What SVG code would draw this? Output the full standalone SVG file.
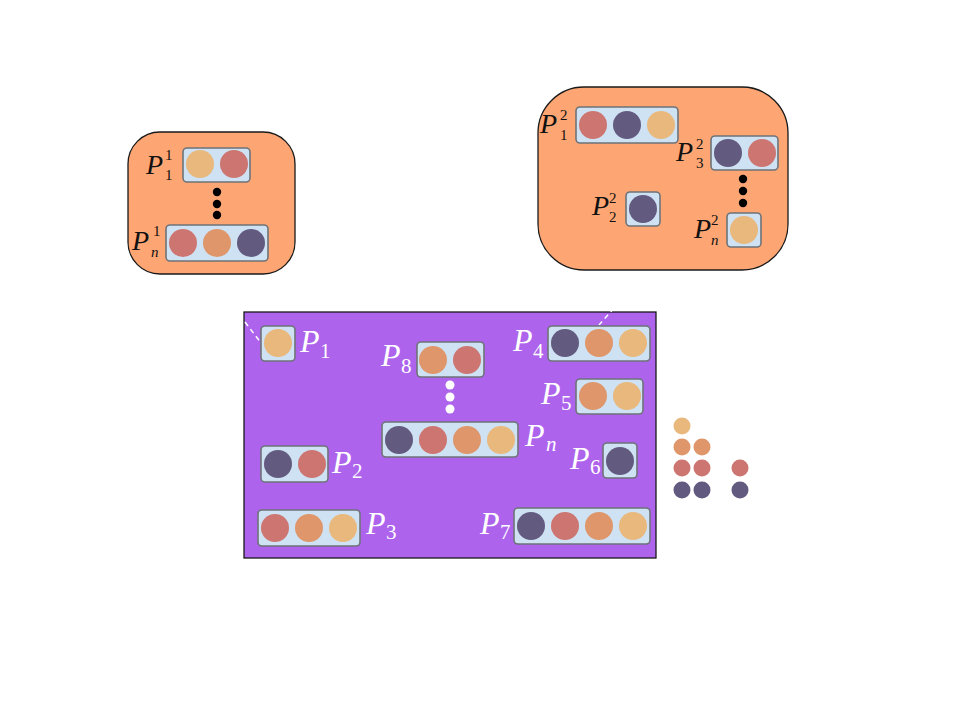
<svg xmlns="http://www.w3.org/2000/svg" width="960" height="720" viewBox="0 0 960 720">
<defs>
<style>
.grp{fill:#FEA673;stroke:#1a1a1a;stroke-width:1.3}
.pur{fill:#AD63EC;stroke:#1a1a1a;stroke-width:1.3}
.box{fill:#CFE2F3;stroke:#6E7378;stroke-width:1.6}
.y{fill:#E8B87C}.o{fill:#DE966A}.r{fill:#CD7570}.p{fill:#635A80}
.lb{font-family:"Liberation Serif","DejaVu Serif",serif;fill:#111}
.lw{font-family:"Liberation Serif","DejaVu Serif",serif;fill:#fff}
.P{font-style:italic;font-size:28px}
.PW{font-style:italic;font-size:32px}
.s{font-size:15px}
.sw{font-size:21px}
.it{font-style:italic}
</style>
</defs>
<rect width="960" height="720" fill="#fff"/>

<g id="group1">
<rect class="grp" x="128" y="132" width="167" height="142" rx="32"/>
</g>
<g id="group2">
<rect class="grp" x="538" y="87" width="250" height="183" rx="46"/>
</g>
<g id="group3">
<rect class="pur" x="244" y="312" width="412" height="246"/>
</g>

<g id="connectors" stroke="#fff" stroke-width="1.5" stroke-dasharray="5,4" fill="none">
<line x1="245" y1="322" x2="261" y2="343"/>
<line x1="614" y1="308" x2="599" y2="325"/>
</g>

<g id="dots1">
<circle cx="217" cy="192" r="4.2" fill="#000"/>
<circle cx="217" cy="204" r="4.2" fill="#000"/>
<circle cx="217" cy="215" r="4.2" fill="#000"/>
</g>
<g id="dots2">
<circle cx="743" cy="179" r="4.2" fill="#000"/>
<circle cx="743" cy="191" r="4.2" fill="#000"/>
<circle cx="743" cy="203" r="4.2" fill="#000"/>
</g>
<g id="dots3">
<circle cx="450" cy="385" r="4.5" fill="#fff"/>
<circle cx="450" cy="397" r="4.5" fill="#fff"/>
<circle cx="450" cy="409" r="4.5" fill="#fff"/>
</g>

<g id="P1_1">
<rect class="box" x="183" y="148" width="67" height="34" rx="4"/>
<circle class="y" cx="200" cy="164" r="14"/><circle class="r" cx="234" cy="164" r="14"/>
<text class="lb P" x="146" y="174">P</text>
<text class="lb s" x="165" y="160">1</text>
<text class="lb s" x="165" y="180">1</text>
</g>
<g id="Pn_1">
<rect class="box" x="166" y="225" width="102" height="36" rx="4"/>
<circle class="r" cx="183" cy="243" r="14"/><circle class="o" cx="217" cy="243" r="14"/><circle class="p" cx="251" cy="243" r="14"/>
<text class="lb P" x="132" y="250">P</text>
<text class="lb s" x="153" y="236">1</text>
<text class="lb s it" x="151" y="257">n</text>
</g>

<g id="P1_2">
<rect class="box" x="576" y="107" width="102" height="36" rx="4"/>
<circle class="r" cx="593" cy="125" r="14"/><circle class="p" cx="627" cy="125" r="14"/><circle class="y" cx="661" cy="125" r="14"/>
<text class="lb P" x="540" y="133">P</text>
<text class="lb s" x="560" y="120">2</text>
<text class="lb s" x="560" y="140">1</text>
</g>
<g id="P3_2">
<rect class="box" x="711" y="136" width="67" height="34" rx="4"/>
<circle class="p" cx="728" cy="153" r="14"/><circle class="r" cx="762" cy="153" r="14"/>
<text class="lb P" x="676" y="161">P</text>
<text class="lb s" x="696" y="149">2</text>
<text class="lb s" x="696" y="168">3</text>
</g>
<g id="P2_2">
<rect class="box" x="626" y="192" width="34" height="34" rx="4"/>
<circle class="p" cx="643" cy="209" r="14"/>
<text class="lb P" x="592" y="215">P</text>
<text class="lb s" x="609" y="203">2</text>
<text class="lb s" x="609" y="222">2</text>
</g>
<g id="Pn_2">
<rect class="box" x="727" y="213" width="34" height="34" rx="4"/>
<circle class="y" cx="744" cy="230" r="14"/>
<text class="lb P" x="694" y="238">P</text>
<text class="lb s" x="711" y="225">2</text>
<text class="lb s it" x="711" y="245">n</text>
</g>

<g id="P1">
<rect class="box" x="261" y="326" width="34" height="35" rx="4"/>
<circle class="y" cx="278" cy="343" r="14"/>
<text class="lw PW" x="300" y="352">P</text>
<text class="lw sw" x="320" y="358">1</text>
</g>
<g id="P8">
<rect class="box" x="417" y="342" width="67" height="35" rx="4"/>
<circle class="o" cx="433" cy="360" r="14"/><circle class="r" cx="467" cy="360" r="14"/>
<text class="lw PW" x="381" y="366">P</text>
<text class="lw sw" x="401" y="373">8</text>
</g>
<g id="Pn">
<rect class="box" x="382" y="422" width="136" height="35" rx="4"/>
<circle class="p" cx="399" cy="440" r="14"/><circle class="r" cx="433" cy="440" r="14"/><circle class="o" cx="467" cy="440" r="14"/><circle class="y" cx="501" cy="440" r="14"/>
<text class="lw PW" x="525" y="446">P</text>
<text class="lw sw it" x="546" y="451">n</text>
</g>
<g id="P4">
<rect class="box" x="548" y="326" width="102" height="35" rx="4"/>
<circle class="p" cx="565" cy="343" r="14"/><circle class="o" cx="599" cy="343" r="14"/><circle class="y" cx="633" cy="343" r="14"/>
<text class="lw PW" x="513" y="351">P</text>
<text class="lw sw" x="533" y="358">4</text>
</g>
<g id="P5">
<rect class="box" x="576" y="379" width="67" height="35" rx="4"/>
<circle class="o" cx="593" cy="396" r="14"/><circle class="y" cx="627" cy="396" r="14"/>
<text class="lw PW" x="541" y="404">P</text>
<text class="lw sw" x="561" y="410">5</text>
</g>
<g id="P6">
<rect class="box" x="603" y="443" width="34" height="35" rx="4"/>
<circle class="p" cx="620" cy="461" r="14"/>
<text class="lw PW" x="570" y="469">P</text>
<text class="lw sw" x="590" y="474">6</text>
</g>
<g id="P2">
<rect class="box" x="261" y="446" width="67" height="36" rx="4"/>
<circle class="p" cx="278" cy="464" r="14"/><circle class="r" cx="312" cy="464" r="14"/>
<text class="lw PW" x="332" y="473">P</text>
<text class="lw sw" x="352" y="478">2</text>
</g>
<g id="P3">
<rect class="box" x="258" y="510" width="102" height="36" rx="4"/>
<circle class="r" cx="275" cy="528" r="14"/><circle class="o" cx="309" cy="528" r="14"/><circle class="y" cx="343" cy="528" r="14"/>
<text class="lw PW" x="366" y="534">P</text>
<text class="lw sw" x="386" y="539">3</text>
</g>
<g id="P7">
<rect class="box" x="514" y="508" width="136" height="36" rx="4"/>
<circle class="p" cx="531" cy="526" r="14"/><circle class="r" cx="565" cy="526" r="14"/><circle class="o" cx="599" cy="526" r="14"/><circle class="y" cx="633" cy="526" r="14"/>
<text class="lw PW" x="480" y="534">P</text>
<text class="lw sw" x="500" y="539">7</text>
</g>

<g id="legend">
<circle class="y" cx="682" cy="426" r="8.5"/>
<circle class="o" cx="682" cy="447" r="8.5"/><circle class="o" cx="702" cy="447" r="8.5"/>
<circle class="r" cx="682" cy="468" r="8.5"/><circle class="r" cx="702" cy="468" r="8.5"/><circle class="r" cx="740" cy="468" r="8.5"/>
<circle class="p" cx="682" cy="490" r="8.5"/><circle class="p" cx="702" cy="490" r="8.5"/><circle class="p" cx="740" cy="490" r="8.5"/>
</g>
</svg>
